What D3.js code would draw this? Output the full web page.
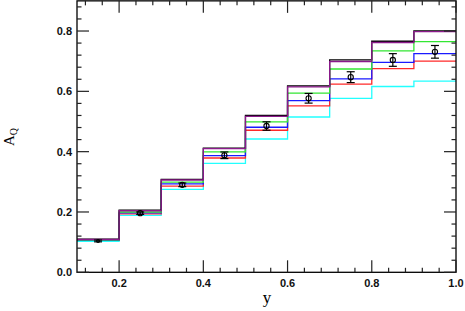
<!DOCTYPE html>
<html>
<head>
<meta charset="utf-8">
<script src="https://cdn.jsdelivr.net/npm/d3@7"></script>
<style>
    body { margin: 0; background: #fff; }
    svg { display: block; }
    .ticklabel { font-family: "Liberation Sans", Arial, sans-serif; font-size: 11px; font-weight: bold; fill: #111; }
    .axistitle { font-family: "Liberation Serif", "Times New Roman", serif; fill: #000; }
</style>
</head>
<body>
<div id="chart"></div>
<script>
// bin edges in y, and the histogram levels per model curve
const binEdges = [0.1, 0.2, 0.3, 0.4, 0.5, 0.6, 0.7, 0.8, 0.9, 1.0];
const blackVals  = [0.110, 0.206, 0.308, 0.412, 0.520, 0.618, 0.704, 0.766, 0.800];
const purpleVals = [0.109, 0.204, 0.306, 0.410, 0.517, 0.615, 0.699, 0.762, 0.798];
const greenVals  = [0.108, 0.200, 0.299, 0.399, 0.499, 0.594, 0.674, 0.734, 0.765];
const blueVals   = [0.107, 0.197, 0.293, 0.387, 0.481, 0.569, 0.641, 0.696, 0.725];
const redVals    = [0.106, 0.194, 0.286, 0.379, 0.471, 0.552, 0.624, 0.675, 0.700];
const cyanVals   = [0.103, 0.189, 0.275, 0.361, 0.442, 0.515, 0.577, 0.616, 0.634];

// measured points with errors
const pointX   = [0.15, 0.25, 0.35, 0.45, 0.55, 0.65, 0.75, 0.85, 0.95];
const pointY   = [0.104, 0.196, 0.290, 0.388, 0.485, 0.577, 0.647, 0.704, 0.731];
const pointErr = [0.003, 0.004, 0.006, 0.011, 0.014, 0.016, 0.018, 0.021, 0.021];

const xTickLabels = [0.2, 0.4, 0.6, 0.8, 1.0];
const yTickLabels = [0.0, 0.2, 0.4, 0.6, 0.8];

var width = 465, height = 311;

var svg = d3.select("#chart")
    .append("svg")
    .attr("width", width)
    .attr("height", height);

var x = d3.scaleLinear().domain([0.1, 1.0]).range([77, 456]);
var y = d3.scaleLinear().domain([0, 0.9]).range([272.3, 0.86]);

var series = [
    {vals: cyanVals, color: "#22ffff"},
    {vals: redVals, color: "#ff2a2a"},
    {vals: blueVals, color: "#1a1aff"},
    {vals: greenVals, color: "#33e633"},
    {vals: blackVals, color: "#000000"},
    {vals: purpleVals, color: "#8b1a8b"}
];

var step = d3.line()
    .x(function (d) { return x(d[0]); })
    .y(function (d) { return y(d[1]); })
    .curve(d3.curveStepAfter);

series.forEach(function (s) {
    var pts = s.vals.map(function (v, i) { return [binEdges[i], v]; });
    pts.push([binEdges[binEdges.length - 1], s.vals[s.vals.length - 1]]);
    svg.append("path")
        .datum(pts)
        .attr("fill", "none")
        .attr("stroke", s.color)
        .attr("stroke-width", 1.3)
        .attr("d", step);
});

// error bars and markers
var pts = svg.selectAll(".pt")
    .data(pointX.map(function (px, i) { return {x: px, y: pointY[i], e: pointErr[i]}; }))
    .enter()
    .append("g")
    .attr("class", "pt");

pts.append("line")
    .attr("x1", function (d) { return x(d.x); })
    .attr("x2", function (d) { return x(d.x); })
    .attr("y1", function (d) { return y(d.y - d.e); })
    .attr("y2", function (d) { return y(d.y + d.e); })
    .attr("stroke", "#000").attr("stroke-width", 1.2);

[-1, 1].forEach(function (sgn) {
    pts.append("line")
        .attr("x1", function (d) { return x(d.x) - 4; })
        .attr("x2", function (d) { return x(d.x) + 4; })
        .attr("y1", function (d) { return y(d.y + sgn * d.e); })
        .attr("y2", function (d) { return y(d.y + sgn * d.e); })
        .attr("stroke", "#000").attr("stroke-width", 1.2);
});

pts.append("circle")
    .attr("cx", function (d) { return x(d.x); })
    .attr("cy", function (d) { return y(d.y); })
    .attr("r", function (d) { return d.y < 0.15 ? 1.5 : 2.6; })
    .attr("fill", "none")
    .attr("stroke", "#000")
    .attr("stroke-width", 1.1);

// frame
svg.append("rect")
    .attr("x", x(0.1)).attr("y", y(0.9))
    .attr("width", x(1.0) - x(0.1))
    .attr("height", y(0) - y(0.9))
    .attr("fill", "none")
    .attr("stroke", "#000")
    .attr("stroke-width", 1.3);

// ticks on all four sides, pointing inward
var xTicks = d3.range(0.12, 1.0001, 0.04).map(function (v) { return +v.toFixed(2); });
var yTicks = d3.range(0, 0.9001, 0.04).map(function (v) { return +v.toFixed(2); });
function isMajor(v) { return Math.abs(v / 0.2 - Math.round(v / 0.2)) < 1e-6; }

xTicks.forEach(function (v) {
    var len = isMajor(v) ? 12 : 4.5;
    svg.append("line").attr("x1", x(v)).attr("x2", x(v))
        .attr("y1", y(0)).attr("y2", y(0) - len)
        .attr("stroke", "#222").attr("stroke-width", 1.2);
    svg.append("line").attr("x1", x(v)).attr("x2", x(v))
        .attr("y1", y(0.9)).attr("y2", y(0.9) + len)
        .attr("stroke", "#222").attr("stroke-width", 1.2);
});

yTicks.forEach(function (v) {
    var len = isMajor(v) ? 12 : 4.5;
    svg.append("line").attr("x1", x(0.1)).attr("x2", x(0.1) + len)
        .attr("y1", y(v)).attr("y2", y(v))
        .attr("stroke", "#222").attr("stroke-width", 1.2);
    svg.append("line").attr("x1", x(1.0)).attr("x2", x(1.0) - len)
        .attr("y1", y(v)).attr("y2", y(v))
        .attr("stroke", "#222").attr("stroke-width", 1.2);
});

svg.selectAll(".xlab")
    .data(xTickLabels)
    .enter()
    .append("text")
    .attr("class", "ticklabel")
    .attr("x", function (d) { return x(d); })
    .attr("y", 287)
    .attr("text-anchor", "middle")
    .text(function (d) { return d.toFixed(1); });

svg.selectAll(".ylab")
    .data(yTickLabels)
    .enter()
    .append("text")
    .attr("class", "ticklabel")
    .attr("x", 72)
    .attr("y", function (d) { return y(d) + 4; })
    .attr("text-anchor", "end")
    .text(function (d) { return d.toFixed(1); });

svg.append("text")
    .attr("class", "axistitle")
    .attr("x", 267)
    .attr("y", 303)
    .attr("text-anchor", "middle")
    .style("font-size", "17px")
    .text("y");

var yt = svg.append("text")
    .attr("class", "axistitle")
    .attr("transform", "translate(14,137) rotate(-90)")
    .attr("text-anchor", "middle")
    .style("font-size", "15px");
yt.append("tspan").text("A");
yt.append("tspan").attr("dy", 3).style("font-size", "10px").text("Q");
</script>
</body>
</html>
